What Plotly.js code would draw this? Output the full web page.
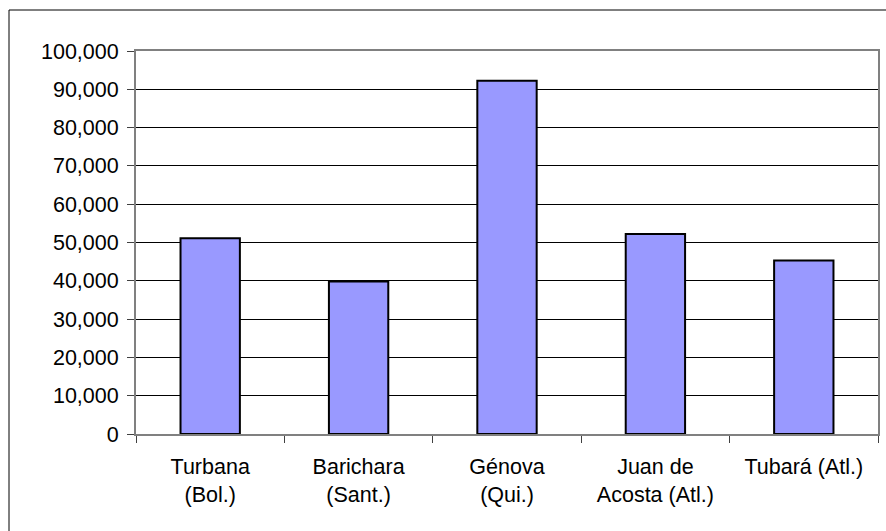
<!DOCTYPE html>
<html>
<head>
<meta charset="utf-8">
<script src="https://cdn.plot.ly/plotly-3.0.1.min.js"></script>
<style>html,body{margin:0;padding:0;background:#fff;}#chart{width:886px;height:531px;}</style>
</head>
<body>
<div id="chart"></div>
<script>
const categories = ["Turbana<br>(Bol.)", "Barichara<br>(Sant.)", "Génova<br>(Qui.)", "Juan de<br>Acosta (Atl.)", "Tubará (Atl.)"];
const values = [51100, 39800, 92200, 52200, 45300];
const yTickValues = [0, 10000, 20000, 30000, 40000, 50000, 60000, 70000, 80000, 90000, 100000];

const L = 136, R = 8, T = 51, B = 97, W = 886, H = 531;
const pw = W - L - R, ph = H - T - B;

const trace = {
  type: 'bar',
  x: categories,
  y: values,
  marker: {color: '#9999FF', line: {color: '#000000', width: 2}},
  hoverinfo: 'none'
};

const layout = {
  width: W, height: H,
  margin: {l: L, r: R, t: T, b: B, pad: 0},
  paper_bgcolor: '#ffffff',
  plot_bgcolor: '#ffffff',
  showlegend: false,
  bargap: 0.6,
  font: {family: 'Liberation Sans, Arial, sans-serif', size: 21.5, color: '#000'},
  xaxis: {
    type: 'category',
    tickson: 'boundaries',
    ticks: 'outside', ticklen: 7, tickwidth: 1, tickcolor: '#404040',
    showline: true, linecolor: '#808080', linewidth: 2, mirror: true,
    showgrid: false, zeroline: false,
    ticklabelstandoff: 12,
    tickfont: {size: 21.5, color: '#000'},
    fixedrange: true
  },
  yaxis: {
    range: [0, 100000],
    tickvals: yTickValues,
    tickformat: ',d',
    ticks: 'outside', ticklen: 7, tickwidth: 1, tickcolor: '#404040',
    showline: true, linecolor: '#808080', linewidth: 2, mirror: true,
    showgrid: true, gridcolor: '#000000', gridwidth: 1,
    zeroline: false,
    ticklabelstandoff: 4,
    tickfont: {size: 21.5, color: '#000'},
    fixedrange: true
  },
  shapes: [{
    type: 'rect', xref: 'paper', yref: 'paper',
    x0: (9 - L) / pw, x1: (W + 5 - L) / pw,
    y0: (H - B - (H + 5)) / ph, y1: (H - B - 10) / ph,
    line: {color: '#000', width: 1}, fillcolor: 'rgba(0,0,0,0)'
  }]
};

Plotly.newPlot('chart', [trace], layout, {displayModeBar: false, staticPlot: true});
</script>
</body>
</html>
